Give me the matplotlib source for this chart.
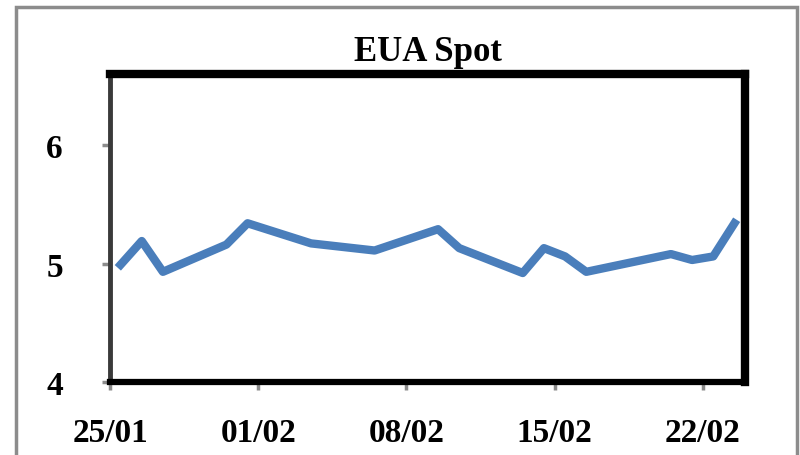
import matplotlib
matplotlib.use("Agg")
import matplotlib.pyplot as plt
import pandas as pd
from matplotlib.patches import Rectangle

title = "EUA Spot"
dates = ["25/01/2012", "26/01/2012", "27/01/2012", "30/01/2012", "31/01/2012",
         "03/02/2012", "06/02/2012", "08/02/2012", "09/02/2012", "10/02/2012",
         "13/02/2012", "14/02/2012", "15/02/2012", "16/02/2012", "20/02/2012",
         "21/02/2012", "22/02/2012", "23/02/2012"]
prices = [4.99, 5.19, 4.93, 5.16, 5.34, 5.17, 5.11, 5.23, 5.29, 5.13,
          4.92, 5.13, 5.06, 4.93, 5.08, 5.03, 5.06, 5.34]
tick_dates = ["25/01/2012", "01/02/2012", "08/02/2012", "15/02/2012", "22/02/2012"]
tick_labels = ["25/01", "01/02", "08/02", "15/02", "22/02"]
y_ticks = [4, 5, 6]

x = pd.to_datetime(dates, dayfirst=True) + pd.Timedelta(hours=12)
xt = pd.to_datetime(tick_dates, dayfirst=True)

fig = plt.figure(figsize=(8, 4.56), dpi=100)
fig.patches.append(Rectangle((16/800, -0.05), 781/800, 1.05 - 8/456, transform=fig.transFigure,
                             fill=False, edgecolor="#8c8c8c", linewidth=2.5))
ax = fig.add_axes([110/800, (456-383)/456, 635/800, 308/456])
ax.plot(x, prices, color="#4a7ebb", linewidth=6)

ax.set_xlim(pd.Timestamp("2012-01-25"), pd.Timestamp("2012-02-24"))
ax.set_ylim(4, 6.6)
ax.set_xticks(xt)
ax.set_xticklabels(tick_labels)
ax.set_yticks(y_ticks)

for lab in ax.get_xticklabels() + ax.get_yticklabels():
    lab.set_fontfamily("Liberation Serif")
    lab.set_fontweight("bold")
    lab.set_fontsize(24)
ax.tick_params(axis="x", length=6, width=2.5, color="#8c8c8c", pad=19)
ax.tick_params(axis="y", length=6, width=2.5, color="#8c8c8c", pad=28)

for side, lw, col in [("top", 6, "black"), ("right", 6, "black"),
                      ("bottom", 4.5, "black"), ("left", 3.5, "#3a3a3a")]:
    ax.spines[side].set_linewidth(lw)
    ax.spines[side].set_color(col)
    ax.spines[side].set_capstyle("projecting")

ax.set_title(title, fontfamily="Liberation Serif", fontweight="bold", fontsize=25, pad=10)
fig.savefig("out.png", dpi=100)
